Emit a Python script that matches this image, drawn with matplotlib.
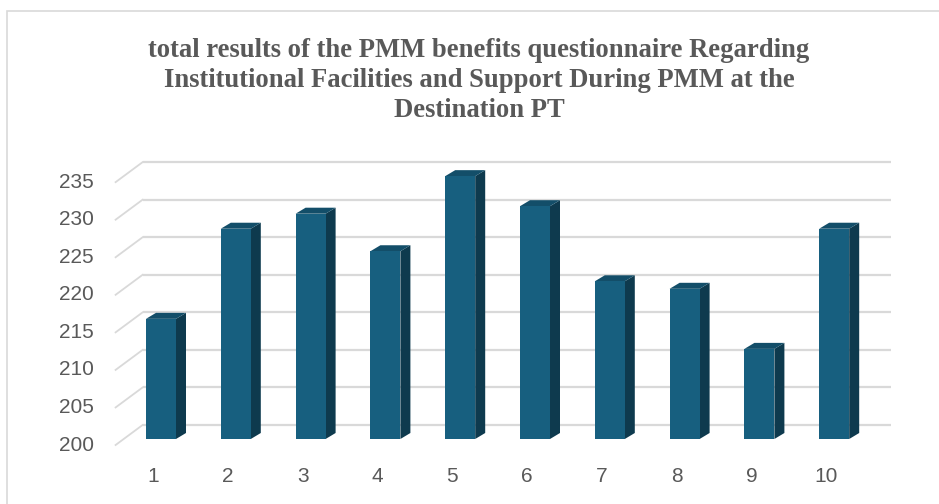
"""3D-style column chart: PMM benefits questionnaire totals."""

import matplotlib

matplotlib.use("Agg")
import matplotlib.pyplot as plt  # noqa: E402
from matplotlib.patches import Polygon, Rectangle  # noqa: E402

# data
questions = [1, 2, 3, 4, 5, 6, 7, 8, 9, 10]
totals = [216, 228, 230, 225, 235, 231, 221, 220, 212, 228]
y_ticks = [200, 205, 210, 215, 220, 225, 230, 235]
title = ("total results of the PMM benefits questionnaire Regarding\n"
         "Institutional Facilities and Support During PMM at the\n"
         "Destination PT")

# style / fake depth (pixel offsets converted to data units)
PX_X, PX_Y = 74.8, 7.51          # pixels per category / per value unit
FRONT = "#175f7f"
SIDE = "#0e3a4e"
TOP = "#134e69"
GRID = "#d9d9d9"
TEXT = "#595959"
bar_w = 30 / PX_X
bdx, bdy = 10 / PX_X, 6 / PX_Y      # bar depth
wdx, wdy = 19 / PX_X, 14 / PX_Y     # bar plane -> back wall
fdx, fdy = -8 / PX_X, -6 / PX_Y     # bar plane -> front plane
base = y_ticks[0]

fig = plt.figure(figsize=(9.39, 5.04), dpi=100)
fig.patches.append(Rectangle((7 / 939, -0.05), 1.1, 1 - 10.5 / 504 + 0.05,
                             transform=fig.transFigure, fill=False,
                             edgecolor=GRID, linewidth=1.2))

x0 = 161 - PX_X
ax = fig.add_axes([x0 / 939, 27.45 / 504, 11 * PX_X / 939, 45 * PX_Y / 504])
ax.set_xlim(0, 11)
ax.set_ylim(195, 240)
ax.axis("off")

# back wall gridlines and floor-side diagonals
left, right = questions[0] - 0.5, questions[-1] + 0.5
for v in y_ticks:
    ax.plot([left + wdx, right + wdx], [v + wdy, v + wdy], color=GRID, lw=1.6,
            solid_capstyle="butt", zorder=1)
    ax.plot([left + fdx, left + wdx], [v + fdy, v + wdy], color=GRID, lw=1.3, zorder=1)
    ax.text(left + fdx - 0.29, v + fdy, str(v), ha="right", va="center",
            fontsize=15, color=TEXT, family="Liberation Sans")

# columns
for q, t in zip(questions, totals):
    xl, xr = q - bar_w / 2, q + bar_w / 2
    ax.add_patch(Polygon([(xr, base), (xr + bdx, base + bdy), (xr + bdx, t + bdy), (xr, t)],
                         closed=True, facecolor=SIDE, edgecolor="none", zorder=3))
    ax.add_patch(Polygon([(xl, t), (xr, t), (xr + bdx, t + bdy), (xl + bdx, t + bdy)],
                         closed=True, facecolor=TOP, edgecolor="none", zorder=3))
ax.bar(questions, [t - base for t in totals], bottom=base, width=bar_w,
       color=FRONT, edgecolor="none", zorder=4)

for q in questions:
    ax.text(q + fdx, base - 38 / PX_Y, str(q), ha="center", va="center",
            fontsize=15, color=TEXT, family="Liberation Sans")

fig.text(479 / 939, 1 - 80.5 / 504, title, ha="center", va="center",
         fontsize=19.2, fontweight="bold", color=TEXT, family="Liberation Serif",
         linespacing=1.27)

fig.savefig("out.png", dpi=100)
